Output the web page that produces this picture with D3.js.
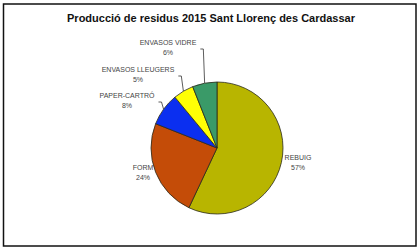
<!DOCTYPE html>
<html>
<head>
<meta charset="utf-8">
<script src="https://cdn.jsdelivr.net/npm/d3@7"></script>
<style>
  body { margin: 0; background: #fff; }
  svg { display: block; font-family: "Liberation Sans", Arial, sans-serif; }
</style>
</head>
<body>
<svg id="chart" width="420" height="250"></svg>
<script>
// data (clockwise from 12 o'clock)
var categories = ["REBUIG", "FORM", "PAPER-CARTRÓ", "ENVASOS LLEUGERS", "ENVASOS VIDRE"];
var values = [57, 24, 8, 5, 6];
var colors = ["#b8b500", "#c44c08", "#0b2ff0", "#ffff05", "#3a9a68"];

// label placement, per slice (offset of label centre from pie centre)
var labelPos = [[81, 14], [-74, 24], [-90, -48], [-79, -74], [-49, -101]];
var leaders = [false, false, true, true, true];

var svg = d3.select("#chart");
var cx = 217, cy = 148, r = 66;

//frame
svg.append("rect")
  .attr("x", 3.5).attr("y", 4)
  .attr("width", 412.5).attr("height", 242)
  .attr("fill", "#fff")
  .attr("stroke", "#111")
  .attr("stroke-width", 1.5);

svg.append("text")
  .attr("x", 211).attr("y", 21.5)
  .attr("text-anchor", "middle")
  .attr("font-size", 11)
  .attr("font-weight", "bold")
  .attr("fill", "#111")
  .text("Producció de residus 2015 Sant Llorenç des Cardassar");

var data = categories.map(function(c, i) {
  return {name: c, value: values[i], color: colors[i]};
});

var pie = d3.pie().sort(null).value(function(d) { return d.value; });
var arc = d3.arc().innerRadius(0).outerRadius(r);
var arcs = pie(data);

var g = svg.append("g").attr("transform", "translate(" + cx + "," + cy + ")");

g.selectAll("path")
  .data(arcs)
  .enter()
  .append("path")
    .attr("d", arc)
    .attr("fill", function(d) { return d.data.color; })
    .attr("stroke", "#2a2a1a")
    .attr("stroke-width", 0.8);

var total = d3.sum(values);

var labels = g.selectAll("g.lbl")
  .data(arcs)
  .enter()
  .append("g")
    .attr("class", "lbl")
    .attr("transform", function(d, i) {
      return "translate(" + labelPos[i][0] + "," + labelPos[i][1] + ")";
    });

labels.append("text")
  .attr("text-anchor", "middle")
  .attr("y", -2.5)
  .attr("font-size", 7)
  .attr("fill", "#444")
  .text(function(d) { return d.data.name; });

labels.append("text")
  .attr("text-anchor", "middle")
  .attr("y", 8)
  .attr("font-size", 7)
  .attr("fill", "#444")
  .text(function(d) { return Math.round(d.value / total * 100) + "%"; });

//leader lines from label edge to slice mid point on the rim
labels.each(function(d, i) {
  if (!leaders[i]) return;
  var w = d3.select(this).select("text").node().getComputedTextLength();
  var sx = labelPos[i][0] + w / 2 + 4;
  var sy = labelPos[i][1] + 2;
  var mid = (d.startAngle + d.endAngle) / 2;
  var ex = r * Math.sin(mid), ey = -r * Math.cos(mid);
  var kx = Math.min(sx + 3, ex);
  g.append("path")
    .attr("d", "M" + sx + "," + sy + "L" + kx + "," + sy + "L" + ex + "," + ey)
    .attr("fill", "none")
    .attr("stroke", "#333")
    .attr("stroke-width", 0.8);
});
</script>
</body>
</html>
